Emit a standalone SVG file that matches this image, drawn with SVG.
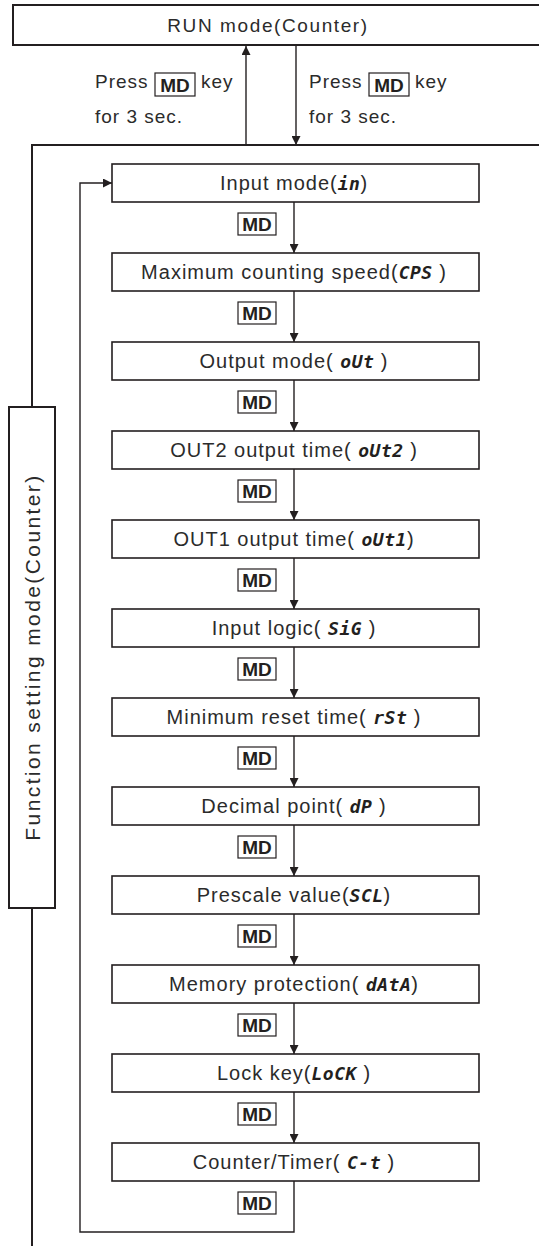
<svg xmlns="http://www.w3.org/2000/svg" width="539" height="1246" viewBox="0 0 539 1246">
<defs>
<marker id="ah" viewBox="0 0 10 10" refX="10" refY="5" markerWidth="10" markerHeight="9" markerUnits="userSpaceOnUse" orient="auto">
<path d="M0,0 L10,5 L0,10 z" fill="#231f20"/>
</marker>
<style>
.box{fill:#fff;stroke:#231f20;stroke-width:1.6}
.thick{fill:#fff;stroke:#231f20;stroke-width:2}
.ln{fill:none;stroke:#231f20;stroke-width:1.4}
.lnt{fill:none;stroke:#231f20;stroke-width:2}
.t{font-family:"Liberation Sans",Arial,sans-serif;font-size:20px;letter-spacing:1px;fill:#2b2b2b;text-anchor:middle}
.p{font-family:"Liberation Sans",Arial,sans-serif;font-size:19px;letter-spacing:1px;fill:#2b2b2b}
.seg{font-family:"DejaVu Sans Mono",monospace;font-weight:bold;font-style:italic;font-size:18px;letter-spacing:0.5px;fill:#231f20}
.mdr{fill:#fff;stroke:#231f20;stroke-width:1.2}
.md{font-family:"Liberation Sans",Arial,sans-serif;font-weight:bold;font-size:19px;fill:#231f20;text-anchor:middle}
</style>
</defs>
<g id="connectors">
<line class="ln" x1="246" y1="145" x2="246" y2="46" marker-end="url(#ah)"/>
<line class="ln" x1="296" y1="46" x2="296" y2="145" marker-end="url(#ah)"/>
<polyline class="lnt" points="539,145 32,145 32,407"/>
<line class="lnt" x1="32" y1="908" x2="32" y2="1246"/>
<line class="ln" x1="294" y1="202" x2="294" y2="253" marker-end="url(#ah)"/>
<line class="ln" x1="294" y1="291" x2="294" y2="342" marker-end="url(#ah)"/>
<line class="ln" x1="294" y1="380" x2="294" y2="431" marker-end="url(#ah)"/>
<line class="ln" x1="294" y1="469" x2="294" y2="520" marker-end="url(#ah)"/>
<line class="ln" x1="294" y1="558" x2="294" y2="609" marker-end="url(#ah)"/>
<line class="ln" x1="294" y1="647" x2="294" y2="698" marker-end="url(#ah)"/>
<line class="ln" x1="294" y1="736" x2="294" y2="787" marker-end="url(#ah)"/>
<line class="ln" x1="294" y1="825" x2="294" y2="876" marker-end="url(#ah)"/>
<line class="ln" x1="294" y1="914" x2="294" y2="965" marker-end="url(#ah)"/>
<line class="ln" x1="294" y1="1003" x2="294" y2="1054" marker-end="url(#ah)"/>
<line class="ln" x1="294" y1="1092" x2="294" y2="1143" marker-end="url(#ah)"/>
<polyline class="ln" points="294,1181 294,1232 80,1232 80,183 112,183" marker-end="url(#ah)"/>
<g id="labels">
<text class="p" x="95" y="88">Press</text>
<rect class="mdr" x="155" y="73" width="40" height="23"/>
<text class="md" x="175" y="92">MD</text>
<text class="p" x="201" y="88">key</text>
<text class="p" x="95" y="123">for 3 sec.</text>
<text class="p" x="309" y="88">Press</text>
<rect class="mdr" x="369" y="73" width="40" height="23"/>
<text class="md" x="389" y="92">MD</text>
<text class="p" x="415" y="88">key</text>
<text class="p" x="309" y="123">for 3 sec.</text>
<rect class="mdr" x="238" y="213" width="38" height="22"/><text class="md" x="257" y="231">MD</text>
<rect class="mdr" x="238" y="302" width="38" height="22"/><text class="md" x="257" y="320">MD</text>
<rect class="mdr" x="238" y="391" width="38" height="22"/><text class="md" x="257" y="409">MD</text>
<rect class="mdr" x="238" y="480" width="38" height="22"/><text class="md" x="257" y="498">MD</text>
<rect class="mdr" x="238" y="569" width="38" height="22"/><text class="md" x="257" y="587">MD</text>
<rect class="mdr" x="238" y="658" width="38" height="22"/><text class="md" x="257" y="676">MD</text>
<rect class="mdr" x="238" y="747" width="38" height="22"/><text class="md" x="257" y="765">MD</text>
<rect class="mdr" x="238" y="836" width="38" height="22"/><text class="md" x="257" y="854">MD</text>
<rect class="mdr" x="238" y="925" width="38" height="22"/><text class="md" x="257" y="943">MD</text>
<rect class="mdr" x="238" y="1014" width="38" height="22"/><text class="md" x="257" y="1032">MD</text>
<rect class="mdr" x="238" y="1103" width="38" height="22"/><text class="md" x="257" y="1121">MD</text>
<rect class="mdr" x="238" y="1192" width="38" height="22"/><text class="md" x="257" y="1210">MD</text>
</g>
</g>
<g id="run-mode">
<rect class="thick" x="13" y="5" width="540" height="40"/>
<text class="t" x="268" y="32" style="font-size:19px;letter-spacing:1.6px">RUN mode(Counter)</text>
</g>
<g id="function-setting-mode">
<rect class="thick" x="9" y="407" width="46" height="501"/>
<text class="t" transform="translate(40,657) rotate(-90)" style="font-size:21px;letter-spacing:2.4px">Function setting mode(Counter)</text>
</g>
<g id="input-mode"><rect class="box" x="112" y="164" width="367" height="38"/><text class="t" x="294" y="190">Input mode(<tspan class="seg">in</tspan>)</text></g>
<g id="max-counting-speed"><rect class="box" x="112" y="253" width="367" height="38"/><text class="t" x="294" y="279">Maximum counting speed(<tspan class="seg">CPS</tspan> )</text></g>
<g id="output-mode"><rect class="box" x="112" y="342" width="367" height="38"/><text class="t" x="294" y="368">Output mode( <tspan class="seg">oUt</tspan> )</text></g>
<g id="out2-time"><rect class="box" x="112" y="431" width="367" height="38"/><text class="t" x="294" y="457">OUT2 output time( <tspan class="seg">oUt2</tspan> )</text></g>
<g id="out1-time"><rect class="box" x="112" y="520" width="367" height="38"/><text class="t" x="294" y="546">OUT1 output time( <tspan class="seg">oUt1</tspan>)</text></g>
<g id="input-logic"><rect class="box" x="112" y="609" width="367" height="38"/><text class="t" x="294" y="635">Input logic( <tspan class="seg">SiG</tspan> )</text></g>
<g id="min-reset-time"><rect class="box" x="112" y="698" width="367" height="38"/><text class="t" x="294" y="724">Minimum reset time( <tspan class="seg">rSt</tspan> )</text></g>
<g id="decimal-point"><rect class="box" x="112" y="787" width="367" height="38"/><text class="t" x="294" y="813">Decimal point( <tspan class="seg">dP</tspan> )</text></g>
<g id="prescale-value"><rect class="box" x="112" y="876" width="367" height="38"/><text class="t" x="294" y="902">Prescale value(<tspan class="seg">SCL</tspan>)</text></g>
<g id="memory-protection"><rect class="box" x="112" y="965" width="367" height="38"/><text class="t" x="294" y="991">Memory protection( <tspan class="seg">dAtA</tspan>)</text></g>
<g id="lock-key"><rect class="box" x="112" y="1054" width="367" height="38"/><text class="t" x="294" y="1080">Lock key(<tspan class="seg">LoCK</tspan> )</text></g>
<g id="counter-timer"><rect class="box" x="112" y="1143" width="367" height="38"/><text class="t" x="294" y="1169">Counter/Timer( <tspan class="seg">C-t</tspan> )</text></g>
</svg>
